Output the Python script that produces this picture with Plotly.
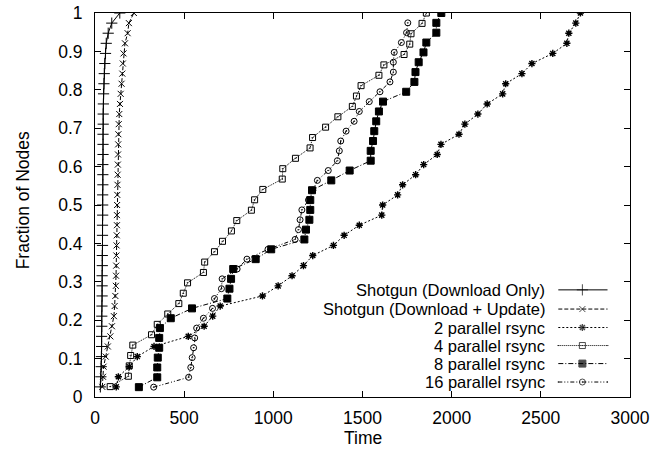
import plotly.graph_objects as go

# Completion times (seconds) of each node, sorted, per distribution method
shotgun_download_only = [30, 33, 35, 36, 37, 37, 38, 38, 39, 40, 40, 40, 41, 41, 42, 42, 42, 43, 43, 43,
                         44, 44, 44, 45, 45, 45, 46, 46, 47, 48, 50, 52, 55, 59, 63, 74, 94, 139]
shotgun_download_update = [41, 45, 48, 60, 72, 86, 95, 106, 110, 114, 117, 118, 119, 120, 121, 122, 123, 123,
                           124, 125, 126, 127, 128, 129, 130, 131, 133, 136, 140, 144, 149, 153, 156, 160,
                           168, 183, 190, 218]
rsync_2 = [119, 131, 192, 237, 331, 523, 612, 660, 702, 939, 1027, 1105, 1169, 1221, 1337, 1397, 1482, 1608,
           1613, 1697, 1725, 1798, 1843, 1919, 1940, 2041, 2074, 2147, 2199, 2286, 2303, 2394, 2450, 2567,
           2646, 2657, 2696, 2722]
rsync_4 = [85, 187, 192, 200, 212, 317, 349, 408, 470, 495, 519, 608, 615, 670, 715, 765, 795, 877, 895, 941,
           1050, 1053, 1124, 1206, 1220, 1293, 1362, 1443, 1466, 1492, 1592, 1620, 1733, 1765, 1772, 1834, 1858]
rsync_8 = [246, 349, 349, 352, 360, 360, 364, 425, 544, 742, 754, 763, 775, 901, 988, 1174, 1183, 1202, 1207,
           1207, 1217, 1325, 1428, 1546, 1546, 1559, 1566, 1577, 1592, 1615, 1745, 1791, 1797, 1815, 1842,
           1858, 1914, 1914, 1942]
rsync_16 = [329, 525, 537, 545, 553, 559, 570, 608, 659, 670, 709, 713, 797, 852, 970, 1122, 1141, 1150, 1160,
            1197, 1222, 1247, 1308, 1359, 1370, 1378, 1408, 1453, 1482, 1538, 1598, 1654, 1673, 1673, 1678,
            1718, 1747, 1754]

# Total number of nodes in each run (denominator of the fraction)
node_totals = [38, 38, 38, 37, 39, 39]

series_names = ["Shotgun (Download Only)", "Shotgun (Download + Update)", "2 parallel rsync",
                "4 parallel rsync", "8 parallel rsync", "16 parallel rsync"]
series_times = [shotgun_download_only, shotgun_download_update, rsync_2, rsync_4, rsync_8, rsync_16]

x_ticks = [0, 500, 1000, 1500, 2000, 2500, 3000]
y_ticks = [0, 0.1, 0.2, 0.3, 0.4, 0.5, 0.6, 0.7, 0.8, 0.9, 1]

styles = [
    dict(dash="solid", symbol="cross-thin-open", size=8, width=1.0, mlw=1.0),
    dict(dash="4px,2px", symbol="x-thin-open", size=6, width=1.0, mlw=1.0),
    dict(dash="2px,2px", symbol="asterisk-open", size=6, width=1.0, mlw=1.4),
    dict(dash="1px,1px", symbol="square-open-dot", size=6, width=1.0, mlw=1.0),
    dict(dash="5px,2px,1px,2px", symbol="square", size=7, width=1.0, mlw=1.0),
    dict(dash="4px,2px,1px,2px,1px,2px", symbol="circle-open-dot", size=6, width=1.0, mlw=1.0),
]

FONT = "Liberation Sans, Arial, Helvetica, sans-serif"
FS = 17.5
KEY_FS = 16.5

fig = go.Figure()

for name, times, total, st in zip(series_names, series_times, node_totals, styles):
    frac = [(i + 1) / total for i in range(len(times))]
    fig.add_trace(go.Scatter(
        x=times, y=frac, mode="lines+markers", name=name, showlegend=False,
        line=dict(color="black", width=st["width"], dash=st["dash"]),
        marker=dict(symbol=st["symbol"], size=st["size"], color="black",
                    line=dict(color="black", width=st["mlw"])),
    ))

# Key: text right-aligned, line sample with marker to its right
key_rows = [0.279, 0.229, 0.181, 0.134, 0.087, 0.039]
key_text_x = 0.843
key_line = [0.866, 0.911, 0.958]
for name, st, ky in zip(series_names, styles, key_rows):
    fig.add_trace(go.Scatter(
        x=key_line, y=[ky] * 3, xaxis="x2", yaxis="y2", mode="lines+markers", showlegend=False,
        hoverinfo="skip",
        line=dict(color="black", width=st["width"], dash=st["dash"]),
        marker=dict(symbol=st["symbol"], size=[0, st["size"], 0], color="black",
                    line=dict(color="black", width=st["mlw"])),
    ))
    fig.add_annotation(x=key_text_x, y=ky, xref="x2", yref="y2", text=name, showarrow=False,
                       xanchor="right", yanchor="middle", borderpad=0,
                       font=dict(family=FONT, size=KEY_FS, color="black"))

# Axis titles
fig.add_annotation(x=0.5, y=-0.107, xref="paper", yref="paper", text="Time", showarrow=False,
                   xanchor="center", yanchor="middle", font=dict(family=FONT, size=FS, color="black"))
fig.add_annotation(x=-0.134, y=0.513, xref="paper", yref="paper", text="Fraction of Nodes", showarrow=False,
                   textangle=-90, xanchor="center", yanchor="middle",
                   font=dict(family=FONT, size=FS, color="black"))

axis_common = dict(
    showline=True, linecolor="black", linewidth=1, mirror="ticks",
    ticks="inside", ticklen=6, tickwidth=1, tickcolor="black",
    showgrid=False, zeroline=False, automargin=False,
    tickfont=dict(family=FONT, size=FS, color="black"),
)

fig.update_layout(
    width=667, height=452, autosize=False,
    margin=dict(l=95, r=37, t=13, b=55),
    paper_bgcolor="white", plot_bgcolor="white",
    showlegend=False,
    xaxis=dict(range=[0, 3000], tickvals=x_ticks, ticklabelstandoff=5, **axis_common),
    yaxis=dict(range=[0, 1], tickvals=y_ticks, ticklabelstandoff=8, **axis_common),
    xaxis2=dict(range=[0, 1], overlaying="x", visible=False, fixedrange=True),
    yaxis2=dict(range=[0, 1], overlaying="y", visible=False, fixedrange=True),
)

fig.write_html("out.html")
